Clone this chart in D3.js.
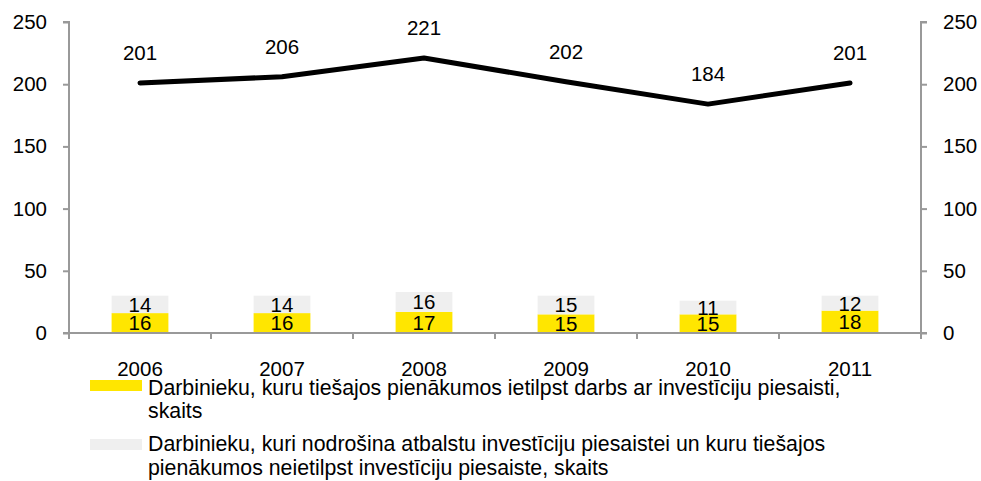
<!DOCTYPE html>
<html><head><meta charset="utf-8">
<script src="https://cdn.jsdelivr.net/npm/d3@7"></script>
<style>body{margin:0;background:#fff}svg{display:block;font-family:"Liberation Sans",Arial,sans-serif}</style>
</head><body><svg id="c" width="981" height="481"></svg>
<script>
const years = ["2006","2007","2008","2009","2010","2011"];
const direct = [16,16,17,15,15,18];
const support = [14,14,16,15,11,12];
const total = [201,206,221,202,184,201];
const yTicks = [0,50,100,150,200,250];
const legendLabels = [
  ["Darbinieku, kuru tiešajos pienākumos ietilpst darbs ar investīciju piesaisti,","skaits"],
  ["Darbinieku, kuri nodrošina atbalstu investīciju piesaistei un kuru tiešajos","pienākumos neietilpst investīciju piesaiste, skaits"]
];
const colors = ["#ffe600","#efefef"];

const svg = d3.select("#c");
const L = 69, R = 921, T = 22, B = 333;
const x = d3.scaleBand().domain(years).range([L,R]);
const y = d3.scaleLinear().domain([0,250]).range([B,T]);
const fs = 20.5;
const lfs = 21.3;

// bars
const bw = x.bandwidth()*0.4;
years.forEach((yr,i)=>{
  const cx = x(yr)+x.bandwidth()/2;
  svg.append("rect").attr("x",cx-bw/2).attr("y",y(direct[i])).attr("width",bw).attr("height",y(0)-y(direct[i])).attr("fill",colors[0]);
  svg.append("rect").attr("x",cx-bw/2).attr("y",y(direct[i]+support[i])).attr("width",bw).attr("height",y(0)-y(support[i])).attr("fill",colors[1]);
  svg.append("text").attr("x",cx).attr("y",(y(0)+y(direct[i]))/2).attr("dy","0.36em").attr("text-anchor","middle").attr("font-size",fs).text(direct[i]);
  svg.append("text").attr("x",cx).attr("y",(y(direct[i])+y(direct[i]+support[i]))/2).attr("dy","0.36em").attr("text-anchor","middle").attr("font-size",fs).text(support[i]);
});

// line
const line = d3.line().x((d,i)=>x(years[i])+x.bandwidth()/2).y(d=>y(d));
svg.append("path").datum(total).attr("d",line).attr("fill","none").attr("stroke","#000").attr("stroke-width",5).attr("stroke-linecap","round").attr("stroke-linejoin","round");
total.forEach((v,i)=>{
  svg.append("text").attr("x",x(years[i])+x.bandwidth()/2).attr("y",y(v)-30).attr("dy","0.36em").attr("text-anchor","middle").attr("font-size",fs).text(v);
});

// axes
const axColor = "#999";
const gl = svg.append("g").attr("transform",`translate(${L},0)`).call(d3.axisLeft(y).tickValues(yTicks).tickSize(6).tickPadding(16));
const gr = svg.append("g").attr("transform",`translate(${R},0)`).call(d3.axisRight(y).tickValues(yTicks).tickSize(6).tickPadding(16));
[gl,gr].forEach(g=>{
  g.select(".domain").attr("stroke",axColor).attr("stroke-width",2).attr("d",`M${g===gl?-6:6},${T}H0V${B}H${g===gl?-6:6}`);
  g.selectAll(".tick line").attr("stroke",axColor).attr("stroke-width",2);
  g.selectAll(".tick text").attr("font-size",fs).attr("fill","#000").attr("font-family","Liberation Sans, Arial, sans-serif");
});
// x baseline
svg.append("line").attr("x1",L).attr("x2",R).attr("y1",B).attr("y2",B).attr("stroke",axColor).attr("stroke-width",2);
const xt = d3.range(years.length+1).map(i=>L+i*x.bandwidth());
xt.forEach(px=>svg.append("line").attr("x1",px).attr("x2",px).attr("y1",B).attr("y2",B+6).attr("stroke",axColor).attr("stroke-width",2));
years.forEach(yr=>{
  svg.append("text").attr("x",x(yr)+x.bandwidth()/2).attr("y",369).attr("dy","0.36em").attr("text-anchor","middle").attr("font-size",fs).text(yr);
});

// legend
const lg = [{sy:380,ty:[387,410]},{sy:439,ty:[443,467]}];
lg.forEach((l,i)=>{
  svg.append("rect").attr("x",90).attr("y",l.sy).attr("width",52).attr("height",11).attr("fill",colors[i]);
  legendLabels[i].forEach((t,j)=>{
    svg.append("text").attr("x",148).attr("y",l.ty[j]).attr("dy","0.36em").attr("font-size",lfs).text(t);
  });
});
</script></body></html>
